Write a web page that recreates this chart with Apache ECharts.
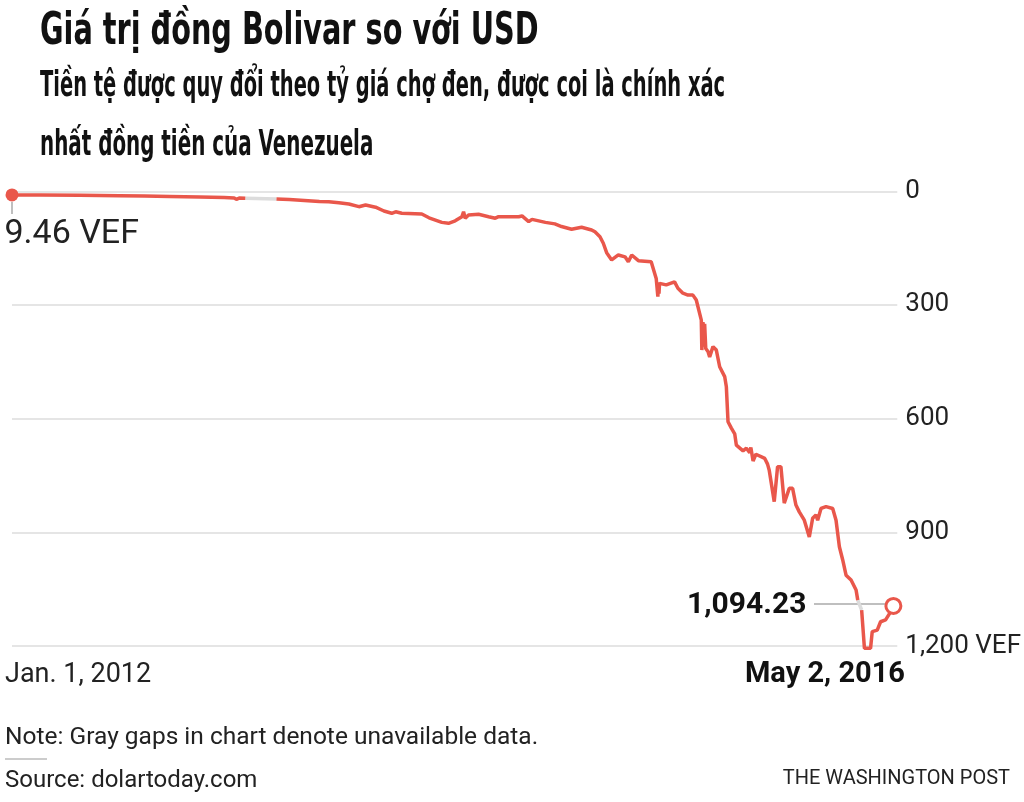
<!DOCTYPE html>
<html>
<head>
<meta charset="utf-8">
<script src="https://cdn.jsdelivr.net/npm/echarts@6/dist/echarts.min.js"></script>
<style>
html,body{margin:0;padding:0;background:#fff;}
#chart{width:1024px;height:802px;}
</style>
</head>
<body>
<div id="chart"></div>
<script>
// ---- data (days since Jan 1, 2012 ; VEF per USD, black-market) ----
const days = [0,50,122,193,238,283,337,381,399,403,408,419,447,475,498,525,552,
  569,587,605,623,635,653,668,682,689,700,736,749,772,784,796,808,811,814,820,838,856,868,874,
  910,916,928,934,958,975,987,1005,1023,1041,1047,1056,1062,1068,1077,1089,1101,1107,1113,1125,
  1148,1157,1160,1161,1162,1163,1175,1190,1196,1205,1214,1223,1229,1235,1238,1239,1241,1243,1244,
  1246,1250,1253,1259,1265,1271,1280,1283,1286,1292,1298,1301,1313,1319,1325,1327,1331,1336,1352,
  1357,1360,1369,1375,1381,1387,1396,1402,1408,1414,1423,1432,1438,1444,1447,1453,1462,1474,1480,
  1486,1492,1498,1507,1516,1519,1522,1526,1531,1542,1545,1554,1560,1569,1578,1583];
const values = [9.46,9.8,10.5,11.5,12.5,13.5,15,16.5,17.5,21,18,18.5,null,20,21.5,24,27,
  27.4,30,33.5,40.6,36,42,52,58,54,58,60,70,82,84.5,78,67,54,71,62.5,60.7,67,71,67,
  67,65,80,74,82,86,93,100,95,102,107,120,137,162,181,168,173,186,168,183,
  186,230,278,240,270,243,247,239,256,269,274,274,287,322,340,419,345,410,350,
  415,423,437,410,419,463,489,516,608,625,640,670,685,678,690,676,712,694,705,
  720,736,819,727,727,823,784,784,828,846,868,912,863,854,868,837,832,837,868,
  938,973,1013,1026,1052,1079,null,1105,1206,1206,1162,1158,1136,1131,1110,1094.23];
const yTicks = [0,300,600,900,1200];
const yTickLabels = ['0','300','600','900','1,200 VEF'];
const xLabels = ['Jan. 1, 2012','May 2, 2016'];

const START = Date.UTC(2012,0,1);
const DAY = 86400000;
const RED = '#e9574b';
const GRAY = '#dcdcdc';
const BODY = 'Roboto, "Liberation Sans", sans-serif';
const COND = '"DejaVu Sans", "Noto Sans", sans-serif';

const lineData = days.map((d,i)=>[START+d*DAY, values[i]===null ? '-' : values[i]]);
const gapData = [];
values.forEach((v,i)=>{
  if(v===null){
    gapData.push([START+days[i-1]*DAY, values[i-1]]);
    gapData.push([START+days[i+1]*DAY, values[i+1]]);
    gapData.push([START+days[i+1]*DAY+1, '-']);
  }
});
const last = days.length-1;

const chart = echarts.init(document.getElementById('chart'), null, {renderer:'canvas'});
chart.setOption({
  animation:false,
  backgroundColor:'#fff',
  grid:{left:12,right:124,top:191.3,bottom:156},
  xAxis:{type:'time',min:START,max:START+1590*DAY,
    axisLine:{show:false},axisTick:{show:false},axisLabel:{show:false},splitLine:{show:false}},
  yAxis:{type:'value',inverse:true,min:0,max:1200,interval:300,position:'right',
    axisLine:{show:false},axisTick:{show:false},
    splitLine:{lineStyle:{color:GRAY,width:1.5}},
    axisLabel:{margin:8,fontSize:26,color:'#222',fontFamily:BODY,
      formatter:(v)=>yTickLabels[yTicks.indexOf(v)]}},
  series:[
    {type:'line',data:gapData,showSymbol:false,silent:true,clip:false,
      lineStyle:{color:GRAY,width:3.5},z:2},
    {type:'line',data:lineData,showSymbol:false,silent:true,clip:false,
      lineStyle:{color:RED,width:3.5},z:3},
    {type:'scatter',data:[[START+days[0]*DAY,values[0]]],symbolSize:13,silent:true,
      itemStyle:{color:RED,opacity:1},z:5,
      label:{show:true,formatter:values[0].toFixed(2)+' VEF',position:[-1,46],align:'left',verticalAlign:'middle',
        fontSize:34,color:'#222',fontFamily:BODY}},
    {type:'scatter',data:[[START+days[last]*DAY,values[last]]],symbolSize:15,silent:true,
      itemStyle:{color:'#fff',borderColor:RED,borderWidth:3,opacity:1},z:5,
      label:{show:true,position:'left',distance:78,
        formatter:values[last].toLocaleString('en-US',{minimumFractionDigits:2}),
        fontSize:30,fontWeight:'bold',color:'#111',fontFamily:BODY}}
  ],
  graphic:[
    {type:'line',shape:{x1:12,y1:202,x2:12,y2:214},style:{stroke:'#aaa',lineWidth:1.5},z:10},
    {type:'line',shape:{x1:814,y1:604,x2:887,y2:604},style:{stroke:'#aaa',lineWidth:1.5},z:1},
    {type:'text',x:40,y:11,scaleX:0.653,style:{text:'Giá trị đồng Bolivar so với USD',font:'bold 44px '+COND,fill:'#111',verticalAlign:'top'}},
    {type:'text',x:40,y:69,scaleX:0.556,style:{text:'Tiền tệ được quy đổi theo tỷ giá chợ đen, được coi là chính xác',font:'bold 35px '+COND,fill:'#111',verticalAlign:'top'}},
    {type:'text',x:40,y:128,scaleX:0.568,style:{text:'nhất đồng tiền của Venezuela',font:'bold 35px '+COND,fill:'#111',verticalAlign:'top'}},
    {type:'text',x:5,y:675,style:{text:xLabels[0],font:'27px '+BODY,fill:'#222',verticalAlign:'middle'}},
    {type:'text',x:905,y:675,style:{text:xLabels[1],font:'bold 29px '+BODY,fill:'#111',align:'right',verticalAlign:'middle'}},
    {type:'text',x:5,y:738,style:{text:'Note: Gray gaps in chart denote unavailable data.',font:'24.5px '+BODY,fill:'#222',verticalAlign:'middle'}},
    {type:'line',shape:{x1:5,y1:759,x2:47,y2:759},style:{stroke:'#bbb',lineWidth:1.5}},
    {type:'text',x:5,y:781,style:{text:'Source: dolartoday.com',font:'24px '+BODY,fill:'#222',verticalAlign:'middle'}},
    {type:'text',x:1010,y:779,style:{text:'THE WASHINGTON POST',font:'20px '+BODY,fill:'#222',align:'right',verticalAlign:'middle'}}
  ]
});
</script>
</body>
</html>
